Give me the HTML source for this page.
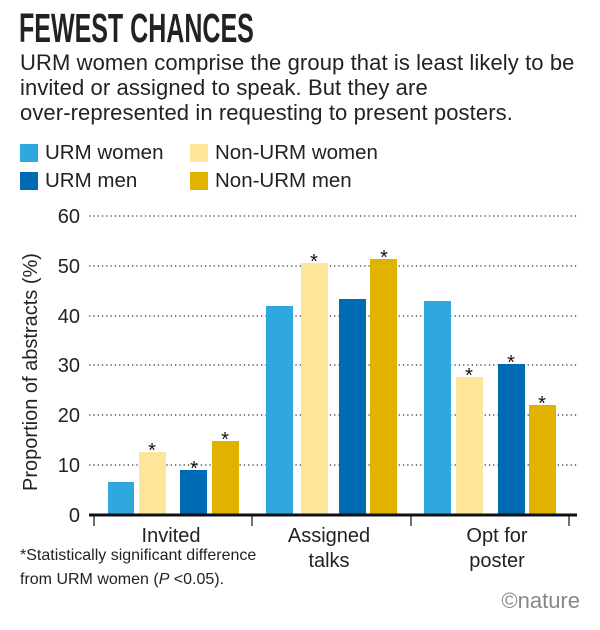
<!DOCTYPE html>
<html><head><meta charset="utf-8"><style>
body{margin:0;width:600px;height:630px;background:#fff;font-family:"Liberation Sans",sans-serif;color:#222;overflow:hidden;position:relative}
.t{position:absolute;white-space:nowrap}
</style></head><body>
<div class="t" style="left:19px;top:5px;font-size:41px;font-weight:bold;transform:scaleX(0.61);transform-origin:left top">FEWEST CHANCES</div>
<div class="t" style="left:20px;top:50px;font-size:22px;line-height:25px;color:#222;letter-spacing:0.1px">URM women comprise the group that is least likely to be<br>invited or assigned to speak. But they are<br>over-represented in requesting to present posters.</div>
<div class="t" style="left:20px;top:144px;width:18px;height:18px;background:#2fa8e0"></div>
<div class="t" style="left:45px;top:141px;font-size:20.5px">URM women</div>
<div class="t" style="left:20px;top:172px;width:18px;height:18px;background:#006bb4"></div>
<div class="t" style="left:45px;top:169px;font-size:20.5px">URM men</div>
<div class="t" style="left:190px;top:144px;width:18px;height:18px;background:#fde599"></div>
<div class="t" style="left:215px;top:141px;font-size:20.5px">Non-URM women</div>
<div class="t" style="left:190px;top:172px;width:18px;height:18px;background:#e0b300"></div>
<div class="t" style="left:215px;top:169px;font-size:20.5px">Non-URM men</div>
<svg width="600" height="630" style="position:absolute;left:0;top:0" font-family="Liberation Sans, sans-serif">
<g stroke="#333" stroke-width="1.3" stroke-dasharray="1.3,3">
<line x1="89" x2="577" y1="216" y2="216"/><line x1="89" x2="577" y1="266" y2="266"/>
<line x1="89" x2="577" y1="316" y2="316"/><line x1="89" x2="577" y1="365" y2="365"/>
<line x1="89" x2="577" y1="415" y2="415"/><line x1="89" x2="577" y1="465" y2="465"/>
</g>
<g fill="#2fa8e0"><rect x="108" y="482" width="26" height="33"/><rect x="266" y="306" width="27" height="209"/><rect x="424" y="301" width="27" height="214"/></g>
<g fill="#fde599"><rect x="139" y="452" width="27" height="63"/><rect x="301" y="263" width="27" height="252"/><rect x="456" y="377" width="27" height="138"/></g>
<g fill="#006bb4"><rect x="180" y="470" width="27" height="45"/><rect x="339" y="299" width="27" height="216"/><rect x="498" y="364" width="27" height="151"/></g>
<g fill="#e0b300"><rect x="212" y="441" width="27" height="74"/><rect x="370" y="259" width="27" height="256"/><rect x="529" y="405" width="27" height="110"/></g>
<g font-size="20" text-anchor="middle" fill="#111">
<text x="152" y="457">*</text><text x="194" y="475">*</text><text x="225" y="446">*</text>
<text x="314" y="268">*</text><text x="384" y="264">*</text>
<text x="469" y="382">*</text><text x="511" y="369">*</text><text x="542" y="410">*</text>
</g>
<line x1="89" x2="577" y1="515" y2="515" stroke="#111" stroke-width="3"/>
<g stroke="#111" stroke-width="1.2"><line x1="94" x2="94" y1="515" y2="526"/><line x1="252" x2="252" y1="515" y2="526"/><line x1="411" x2="411" y1="515" y2="526"/><line x1="569" x2="569" y1="515" y2="526"/></g>
<g font-size="20" text-anchor="end" fill="#222">
<text x="80" y="223">60</text><text x="80" y="273">50</text><text x="80" y="323">40</text>
<text x="80" y="372">30</text><text x="80" y="422">20</text><text x="80" y="472">10</text><text x="80" y="522">0</text>
</g>
<text transform="translate(37,372) rotate(-90)" font-size="20" text-anchor="middle" fill="#222">Proportion of abstracts (%)</text>
<g font-size="20" text-anchor="middle" fill="#222">
<text x="171" y="542">Invited</text><text x="329" y="542">Assigned</text><text x="329" y="567">talks</text>
<text x="497" y="542">Opt for</text><text x="497" y="567">poster</text>
</g>
<text x="20" y="560" font-size="16" fill="#222">*Statistically significant difference</text>
<text x="20" y="584" font-size="16" fill="#222">from URM women (<tspan font-style="italic">P</tspan> &lt;0.05).</text>
<text x="580" y="608" font-size="22" text-anchor="end" fill="#888">©nature</text>
</svg>
</body></html>
